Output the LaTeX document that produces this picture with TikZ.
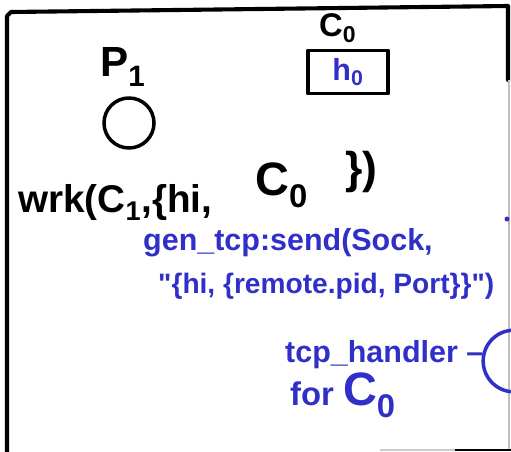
\documentclass[tikz,border=0pt]{standalone}
\usepackage{fontspec}
\setmainfont{Liberation Sans}
\usetikzlibrary{positioning}
\definecolor{penblue}{RGB}{48,48,200}

\begin{document}
\begin{tikzpicture}[x=0.03cm, y=-0.03cm,
    ink/.style={line width=3pt, line cap=round, line join=round},
    hand/.style={anchor=base west, inner sep=0pt,
                 font=\fontsize{#1}{#1}\selectfont\bfseries},
    bluehand/.style={hand=#1, text=penblue}]
  \clip (0,0) rectangle (511,451);
  % frame
  \draw[ink, line width=3.5pt] (7,455) -- (7,16) -- (11,12) -- (508,6) -- (508,80);
  \draw[gray!50, line width=1pt] (509,80) -- (509,451);
  \draw[gray!40, line width=1.5pt] (380,450) -- (455,450);
  \draw[line width=2pt] (455,450) -- (511,450);
  % process and channel
  \node[hand=36] (p1lab) at (100,76) {P\textsubscript{1}};
  \node[circle, draw, ink, minimum size=1.5cm] (p1) at (129,123) {};
  \node[hand=28] (c0lab) at (319,37) {C\textsubscript{0}};
  \node[draw, ink, minimum width=2.4cm, minimum height=1.3cm, text=penblue,
        font=\fontsize{26}{26}\selectfont\bfseries] (cbox) at (348,72) {h\textsubscript{0}};
  % call
  \node[hand=33] (wrk) at (18,212) {wrk(C\textsubscript{1},\{hi,};
  \node[hand=40] (wrkc0) at (255,195) {C\textsubscript{0}};
  \node[hand=38] (wrkend) at (345,183) {\})};
  \node[bluehand=26] (send) at (143,250) {gen\_tcp:send(Sock,};
  \node[bluehand=24] (msg) at (158,293) {\textquotedbl\{hi, \{remote.pid, Port\}\}\textquotedbl)};
  % handler
  \node[bluehand=26] (hlab) at (285,362) {tcp\_handler –};
  \node[bluehand=28] (hfor) at (290,405) {for \fontsize{40}{40}\selectfont C\textsubscript{0}};
  \node[circle, draw=penblue, ink, minimum size=1.85cm] (handler) at (514,361) {};
  \fill[penblue] (507,219) circle (2.5);
\end{tikzpicture}
\end{document}
